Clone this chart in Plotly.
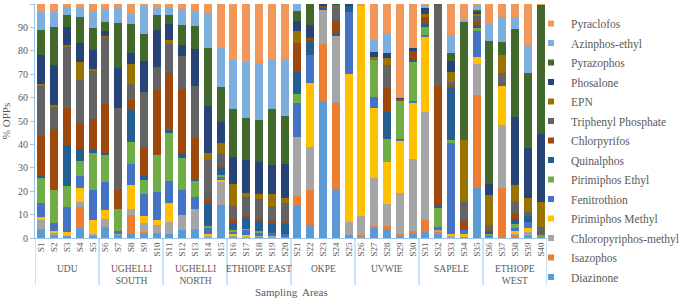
import plotly.graph_objects as go

# ---------------- data ----------------
samples = ["S1", "S2", "S3", "S4", "S5", "S6", "S7", "S8", "S9", "S10",
           "S11", "S12", "S13", "S14", "S15", "S16", "S17", "S18", "S19", "S20",
           "S21", "S22", "S23", "S24", "S25", "S26", "S27", "S28", "S29", "S30",
           "S31", "S32", "S33", "S34", "S35", "S36", "S37", "S38", "S39", "S40"]
area_names = ["UDU", "UGHELLI<br>SOUTH", "UGHELLI<br>NORTH", "ETHIOPE EAST",
              "OKPE", "UVWIE", "SAPELE", "ETHIOPE<br>WEST"]
samples_per_area = [5, 5, 5, 5, 5, 5, 5, 5]

diazinone = [4, 1, 0.7, 4.3, 1.1, 4.3, 1.1, 1.9, 2.1, 2.1,
             1.9, 3.6, 3.6, 0.4, 14.3, 0.6, 0.3, 0.5, 0.4, 0.5,
             13.6, 5.4, 58.6, 20.7, 1.1, 0.4, 4.3, 3.6, 1, 1.9,
             3, 1.9, 0.4, 0.4, 21.5, 0.6, 0, 0.7, 1.1, 0.4]
isazophos = [0, 0.4, 0, 9, 0, 0.4, 0, 7.8, 0.4, 0,
             0, 0, 0.4, 0, 0, 0, 0, 0, 0, 0,
             4.3, 15, 24.3, 36.8, 0, 0.7, 0.7, 1.4, 0.9, 1.1,
             4.6, 0.7, 0, 0, 39.5, 0, 21.5, 0.7, 0, 0]
chloropyriphos_methyl = [3.6, 1.1, 0, 2.1, 0.7, 3.6, 1, 2.9, 3.9, 3.3,
                         5, 6.1, 8.6, 0.7, 10, 0.5, 0.4, 0.3, 0.3, 0,
                         25.4, 18.5, 14.8, 28.8, 5.7, 8.1, 20.8, 9.7, 17.4, 31,
                         46.4, 1, 0.7, 0, 13.3, 0, 26.7, 0.7, 1.4, 0]
pirimiphos_methyl = [1.4, 0.7, 1.9, 6.1, 5.7, 3.6, 0, 10.3, 2.9, 2.4,
                     8.1, 0, 0, 0.7, 0.7, 0.5, 0.4, 0, 0, 0,
                     0, 27.1, 0, 0, 63.2, 89.9, 29.5, 17.8, 22.3, 24,
                     31.8, 0, 0.7, 1.4, 2.9, 0, 16.7, 0.7, 1.9, 0]
fenitrothion = [6, 3.1, 10.7, 4.9, 12.8, 12.1, 0.7, 9, 9.7, 11.8,
                9.3, 10.7, 5, 2.4, 1.4, 1, 2.4, 1.6, 1.4, 1.4,
                14.6, 12.1, 0, 0, 26.7, 0, 4.7, 0, 0.6, 0.7,
                1, 1.1, 39.2, 1.7, 11.4, 0.6, 0, 1.4, 2.4, 0]
pirimiphos_ethyl = [11.1, 14, 8.8, 6.4, 16.4, 11.7, 9.7, 9.3, 5.7, 15.7,
                    20.8, 14, 6.8, 1.1, 0.4, 0.7, 0.2, 0.6, 0, 0,
                    3.6, 0, 0, 0, 0, 0, 16, 10, 16.8, 17,
                    3.3, 8.3, 0.7, 0, 1, 0.4, 0, 1.6, 0, 0.7]
quinalphos = [0.3, 0, 17.5, 5, 0.7, 0.7, 0, 13.8, 1.9, 0,
              1, 2.1, 0.6, 9.3, 3.3, 3.2, 4.7, 4, 4.3, 4.2,
              10, 6.1, 0.5, 1.1, 2.4, 0, 0, 11.4, 0, 0.7,
              1.4, 1, 22.5, 0, 1, 1, 0, 2.4, 2.4, 0]
chlorpyrifos = [17.8, 26.4, 16, 10.8, 13.6, 21.1, 7.8, 4, 12.4, 28.1,
                24.3, 27, 17.8, 1.9, 0.7, 1.2, 1, 1.3, 0.7, 0.7,
                11.8, 1.4, 1.4, 5.4, 0, 0, 0, 10.4, 0.6, 4,
                3.4, 50.9, 0.6, 3.7, 1.9, 0.7, 0, 2.4, 0, 0]
triphenyl_phosphate = [21.3, 9.6, 26.4, 18.8, 20.7, 28.5, 35, 7.1, 23.5, 9.7,
                       12.8, 14.3, 22.1, 16.7, 5, 6, 8, 8.5, 6.2, 8.3,
                       0, 0, 0, 7.1, 0, 0, 0, 9.6, 0, 0,
                       0, 34.7, 1.9, 8.1, 2.4, 2.1, 5.4, 4.7, 1.9, 3.6]
epn = [0.4, 0.4, 0.4, 7.8, 0.4, 0.3, 0, 8.3, 0, 0,
       1.7, 0, 0, 3.3, 4.9, 9.3, 1.7, 1.9, 5.7, 1.8,
       5.4, 0, 0, 0, 0, 0, 1.4, 2.9, 0, 0,
       0.8, 0, 4.3, 26.7, 0.9, 12.8, 7.8, 7.1, 6.1, 10.7]
phosalone = [12.6, 17.1, 7.6, 7.8, 8.1, 2.3, 17.1, 4.9, 13.1, 16,
             6.6, 4.7, 15.7, 19.8, 9, 11.7, 14.2, 13.8, 12.1, 14.9,
             4.3, 5.3, 0.5, 0, 0.9, 0, 2.1, 2.4, 0.5, 0.7,
             2.9, 0, 4.7, 0, 1, 5, 0, 29.2, 21.4, 29.2]
pyrazophos = [10.7, 16.4, 5.3, 11.4, 9.3, 3.9, 19.3, 12.3, 11.6, 6.1,
              3.9, 8.6, 10, 24.7, 14.7, 20.6, 17.9, 18.3, 24.2, 20.3,
              4.3, 9, 0, 0.1, 0, 0, 0, 0, 0, 0,
              0, 0.4, 3.4, 50.4, 0.7, 61, 5.7, 37.4, 32, 55]
azinphos_ethyl = [7.8, 6.4, 3.3, 4, 7.1, 5, 7.1, 4.9, 12, 2.9,
                  3.3, 6.7, 6.1, 14.6, 17, 20.7, 24.2, 24.2, 21, 23.9,
                  2.9, 0, 0, 0, 0, 0, 5.3, 8.3, 0, 0,
                  1, 0, 7.6, 0.7, 2.1, 7.4, 10.7, 5.4, 11.4, 0]
pyraclofos = [3.3, 3.3, 1.4, 1.4, 3.3, 2.6, 1.1, 3.7, 0.9, 1.9,
              1.4, 2.3, 3.3, 4.4, 18.7, 24, 24.7, 25.4, 23.7, 24,
              0, 0, 0, 0, 0, 0.9, 15.1, 12.6, 40, 19,
              0.5, 0, 13.3, 6.8, 0.4, 8.3, 5.4, 5.4, 18, 0.4]

# stacking order: bottom -> top
series_names = ["Diazinone", "Isazophos", "Chloropyriphos-methyl", "Pirimiphos Methyl",
                "Fenitrothion", "Pirimiphos Ethyl", "Quinalphos", "Chlorpyrifos",
                "Triphenyl Phosphate", "EPN", "Phosalone", "Pyrazophos",
                "Azinphos-ethyl", "Pyraclofos"]
series_values = [diazinone, isazophos, chloropyriphos_methyl, pirimiphos_methyl,
                 fenitrothion, pirimiphos_ethyl, quinalphos, chlorpyrifos,
                 triphenyl_phosphate, epn, phosalone, pyrazophos,
                 azinphos_ethyl, pyraclofos]
series_colors = ["#5B9BD5", "#ED7D31", "#A5A5A5", "#FFC000",
                 "#4472C4", "#70AD47", "#255E91", "#9E480E",
                 "#636363", "#997300", "#264478", "#43682B",
                 "#7CAFDD", "#F1975A"]

# ---------------- figure ----------------
FONT = "Liberation Serif"
TXT = "#595959"
AXC = "#9DC3E6"

W, H = 685, 298
ML, MR, MT, MB = 35, 138, 4, 60
plot_w = W - ML - MR
plot_h = H - MT - MB


def py(pix):
    """pixel row -> paper y"""
    return (H - MB - pix) / plot_h


def px(pix):
    """pixel column -> paper x"""
    return (pix - ML) / plot_w


fig = go.Figure()
for name, vals, col in zip(series_names, series_values, series_colors):
    fig.add_trace(go.Bar(x=samples, y=vals, name=name, marker_color=col,
                         marker_line_width=0, showlegend=False))

# legend entries (top -> bottom)
for name, col in zip(series_names[::-1], series_colors[::-1]):
    fig.add_trace(go.Scatter(x=[samples[0]], y=[None], mode="markers",
                             name=name, legendgroup=name,
                             marker=dict(symbol="square", size=6, color=col)))

# group labels and dividers along the category axis
shapes = []
annotations = []
start = 0
for name, n in zip(area_names, samples_per_area):
    shapes.append(dict(type="line", xref="x", yref="paper",
                       x0=start - 0.5, x1=start - 0.5, y0=0, y1=py(285),
                       line=dict(color=AXC, width=1)))
    annotations.append(dict(x=start + (n - 1) / 2, xref="x", y=py(262), yref="paper",
                            yanchor="top", xanchor="center", showarrow=False,
                            text=name, align="center",
                            font=dict(family=FONT, size=9.5, color=TXT)))
    start += n
shapes.append(dict(type="line", xref="x", yref="paper",
                   x0=start - 0.5, x1=start - 0.5, y0=0, y1=py(285),
                   line=dict(color=AXC, width=1)))
annotations.append(dict(x=0.5, xref="paper", y=py(292), yref="paper",
                        yanchor="middle", xanchor="center", showarrow=False,
                        text="Sampling  Areas",
                        font=dict(family=FONT, size=11, color=TXT)))

fig.update_layout(
    width=W, height=H,
    margin=dict(l=ML, r=MR, t=MT, b=MB, autoexpand=False),
    barmode="stack", barnorm="percent", bargap=0.38,
    plot_bgcolor="white", paper_bgcolor="white",
    font=dict(family=FONT, color=TXT, size=10),
    shapes=shapes, annotations=annotations,
    legend=dict(x=px(531), xanchor="left", y=py(9), yanchor="top",
                font=dict(family=FONT, size=11.5, color=TXT),
                traceorder="grouped", tracegroupgap=0.5,
                itemwidth=30, bgcolor="rgba(0,0,0,0)", maxheight=290),
)
fig.update_yaxes(range=[0, 100.01], tick0=0, dtick=10, showgrid=False, zeroline=False,
                 automargin=False,
                 showline=True, linecolor=AXC, linewidth=1,
                 ticks="outside", ticklen=4, tickcolor=AXC,
                 tickfont=dict(family=FONT, size=10, color=TXT),
                 title=dict(text="% OPPs", font=dict(family=FONT, size=11, color=TXT), standoff=6))
fig.update_xaxes(type="category", tickangle=-90, range=[-0.5, len(samples) - 0.5],
                 automargin=False,
                 showline=True, linecolor=AXC, linewidth=1, ticks="",
                 tickfont=dict(family=FONT, size=9, color=TXT))

# the page's default 8px body margin would shift the whole figure
fig.write_html("out.html", config={"displayModeBar": False},
               post_script="document.body.style.margin='0px';")
